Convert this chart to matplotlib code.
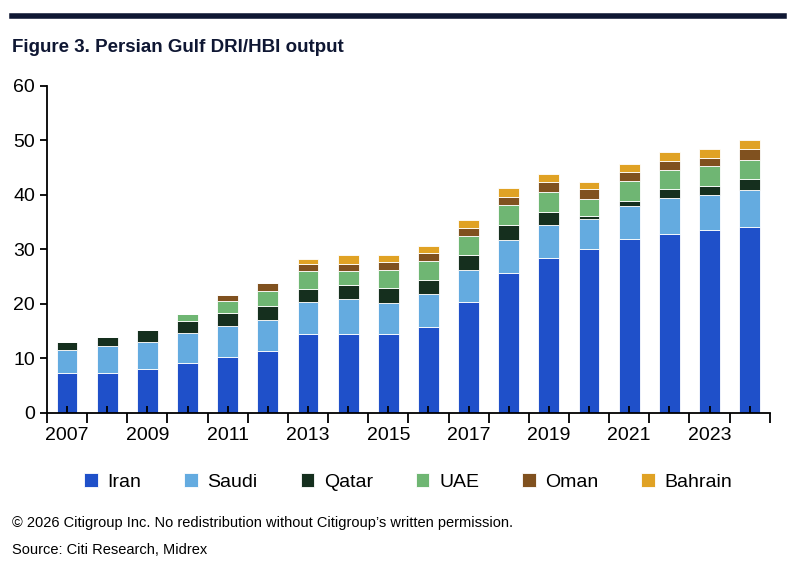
import matplotlib.pyplot as plt
import numpy as np

years = list(range(2007, 2025))
# cumulative tops, converted to per-country amounts below
iran_top = [7.3, 7.3, 8.0, 9.1, 10.2, 11.4, 14.4, 14.4, 14.4, 15.8, 20.4, 25.6, 28.5, 30.1, 31.9, 32.9, 33.5, 34.2]
saudi_top = [11.6, 12.3, 13.1, 14.7, 16.0, 17.1, 20.4, 20.9, 20.2, 21.8, 26.2, 31.7, 34.4, 35.5, 38.0, 39.4, 40.0, 40.9]
qatar_top = [13.0, 13.9, 15.2, 16.9, 18.3, 19.6, 22.8, 23.5, 22.9, 24.4, 28.9, 34.4, 36.9, 36.2, 38.8, 41.0, 41.7, 42.9]
uae_top = [13.0, 13.9, 15.2, 18.2, 20.5, 22.3, 26.0, 26.1, 26.2, 27.9, 32.5, 38.2, 40.6, 39.3, 42.6, 44.6, 45.3, 46.4]
oman_top = [13.0, 13.9, 15.2, 18.2, 21.6, 23.8, 27.4, 27.4, 27.6, 29.4, 34.0, 39.7, 42.3, 41.0, 44.2, 46.3, 46.8, 48.4]
bahrain_top = [13.0, 13.9, 15.2, 18.2, 21.6, 23.8, 28.2, 29.0, 28.9, 30.6, 35.4, 41.3, 43.8, 42.3, 45.7, 47.8, 48.5, 50.0]

names = ["Iran", "Saudi", "Qatar", "UAE", "Oman", "Bahrain"]
colors = ["#1f50c9", "#64abe0", "#152f1e", "#6fb673", "#80511f", "#e0a224"]

tops = np.array([iran_top, saudi_top, qatar_top, uae_top, oman_top, bahrain_top])
values = np.diff(np.vstack([np.zeros(len(years)), tops]), axis=0)

plt.rcParams['font.family'] = ['Liberation Sans', 'DejaVu Sans']
fig = plt.figure(figsize=(7.96, 5.76), dpi=100)
ax = fig.add_axes([0.059, 0.283, 0.908, 0.568])

x = np.arange(len(years))
bottom = np.zeros(len(years))
for name, vals, col in zip(names, values, colors):
    ax.bar(x, vals, 0.52, bottom=bottom, color=col, edgecolor='white', linewidth=0.6, label=name)
    bottom += vals

ax.set_xlim(-0.5, len(years) - 0.5)
ax.set_ylim(0, 60)
ax.set_yticks(range(0, 61, 10))
ax.set_xticks(x)
ax.set_xticklabels([str(y) if y % 2 == 1 else "" for y in years])
ax.set_xticks(np.arange(-0.5, len(years)), minor=True)
ax.tick_params(axis='x', which='major', direction='in', length=5, width=1.3, labelsize=14, pad=10)
ax.tick_params(axis='x', which='minor', direction='out', length=7, width=1.3)
ax.tick_params(axis='y', direction='out', length=5, width=1.3, labelsize=14)
for s in ['top', 'right']:
    ax.spines[s].set_visible(False)
for s in ['left', 'bottom']:
    ax.spines[s].set_linewidth(1.3)

ax.legend(loc='upper center', bbox_to_anchor=(0.5, -0.13), ncol=6, frameon=False,
          fontsize=14, handlelength=0.7, handleheight=0.7, columnspacing=2.2, handletextpad=0.5)

fig.add_artist(plt.Line2D([0.015, 0.985], [0.972, 0.972], color='#0f1733', linewidth=4))
fig.text(0.015, 0.91, "Figure 3. Persian Gulf DRI/HBI output", fontsize=13.5, fontweight='bold', color='#0f1733')
fig.text(0.015, 0.085, "\u00a9 2026 Citigroup Inc. No redistribution without Citigroup\u2019s written permission.", fontsize=10.5)
fig.text(0.015, 0.038, "Source: Citi Research, Midrex", fontsize=10.5)

fig.savefig("out.png", dpi=100)
